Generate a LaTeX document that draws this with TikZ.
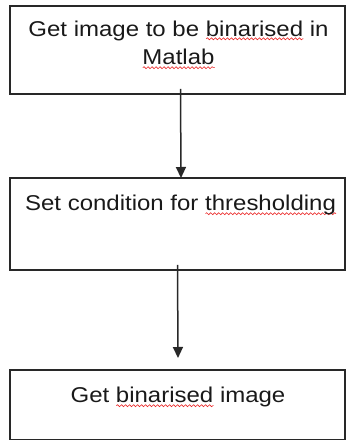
\documentclass[tikz,border=0pt]{standalone}
\usepackage{fontspec}
\setmainfont{Liberation Sans}[FakeStretch=1.12]
\usepackage{xcolor}
\usetikzlibrary{arrows.meta,decorations.pathmorphing}
\definecolor{spellred}{RGB}{235,40,40}
\definecolor{boxgray}{RGB}{40,40,40}
\newsavebox\spellbox
\newcommand\spellwave[1]{\sbox\spellbox{#1}\rlap{\raisebox{-4bp}{\tikz[x=1bp,y=1bp]\draw[spellred,line width=0.6bp,decorate,decoration={snake,amplitude=1bp,segment length=4bp}] (0,0) -- (\wd\spellbox,0);}}\usebox\spellbox}

\begin{document}
\begin{tikzpicture}[x=1bp,y=1bp]

%
% Styles
%
\tikzstyle{stepbox}  = [draw=boxgray, line width=1.4bp, minimum width=335bp, outer sep=0pt, inner sep=0pt]
\tikzstyle{steptext} = [anchor=base, inner sep=0pt, align=center, text=black!90, font=\fontsize{21.5}{29}\selectfont]
\tikzstyle{edge}     = [-{Triangle[width=10bp,length=11bp]}, line width=1.5bp, draw=boxgray]

\useasboundingbox (0,0) rectangle (346,440);

\node[stepbox, minimum height=88bp]   (get)  at (177.5, 390)   {};
\node[stepbox, minimum height=92bp]   (cond) at (177.5, 216)   {};
\node[stepbox, minimum height=69.5bp] (bin)  at (177.5, 35.25) {};

\node[steptext] (gettext)  at ([xshift=1bp,yshift=-59bp]get.north)
  {Get image to be \spellwave{binarised} in\\\spellwave{Matlab}};
\node[steptext] (condtext) at ([xshift=3bp,yshift=-33bp]cond.north)
  {Set condition for \spellwave{thresholding}};
\node[steptext] (bintext)  at ([xshift=0.5bp,yshift=-33bp]bin.north)
  {Get \spellwave{binarised} image};

\draw[edge] ([xshift=3bp,yshift=5bp]get.south) -- ([xshift=3.5bp]cond.north);
\draw[edge] ([yshift=5bp]cond.south) -- ([xshift=0.5bp,yshift=12bp]bin.north);

\end{tikzpicture}
\end{document}
